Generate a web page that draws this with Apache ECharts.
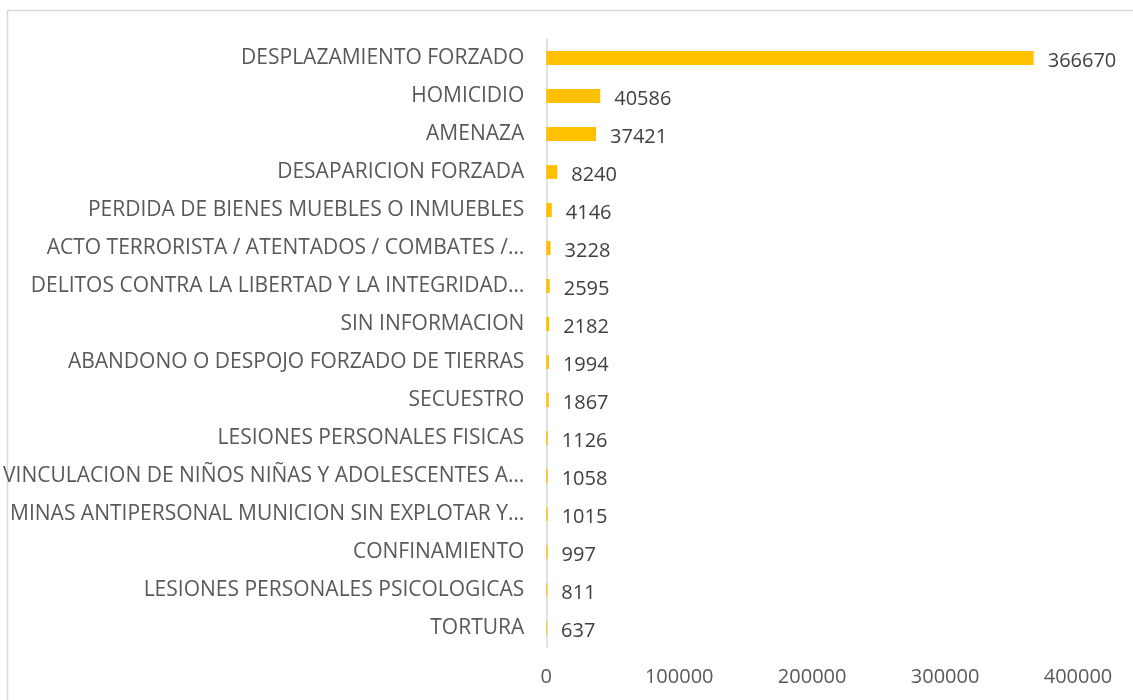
<!doctype html>
<html>
	<head>
		<meta charset="utf-8">
		<title>Hechos victimizantes</title>
		<script src="https://cdn.jsdelivr.net/npm/echarts@6/dist/echarts.min.js"></script>
		<style>
			html, body { margin: 0; padding: 0; background: #fff; }
		</style>
	</head>
	<body>
		<div id="chart" style="width: 1133px; height: 700px;"></div>
		<script>
			const categories = [
				"DESPLAZAMIENTO FORZADO",
				"HOMICIDIO",
				"AMENAZA",
				"DESAPARICION FORZADA",
				"PERDIDA DE BIENES MUEBLES O INMUEBLES",
				"ACTO TERRORISTA / ATENTADOS / COMBATES /…",
				"DELITOS CONTRA LA LIBERTAD Y LA INTEGRIDAD…",
				"SIN INFORMACION",
				"ABANDONO O DESPOJO FORZADO DE TIERRAS",
				"SECUESTRO",
				"LESIONES PERSONALES FISICAS",
				"VINCULACION DE NIÑOS NIÑAS Y ADOLESCENTES A…",
				"MINAS ANTIPERSONAL MUNICION SIN EXPLOTAR Y…",
				"CONFINAMIENTO",
				"LESIONES PERSONALES PSICOLOGICAS",
				"TORTURA"
			];
			const values = [366670, 40586, 37421, 8240, 4146, 3228, 2595, 2182, 1994, 1867, 1126, 1058, 1015, 997, 811, 637];
			const xTicks = [0, 100000, 200000, 300000, 400000];

			const font = "'Open Sans', sans-serif";
			const textColor = "#595959";

			let myChart = echarts.init(document.getElementById("chart"), null, {
				width: 1133,
				height: 700
			});

			myChart.setOption({
				animation: false,
				backgroundColor: "#fff",
				graphic: [
					{
						type: "rect",
						shape: { x: 7.5, y: 10.5, width: 1140, height: 700 },
						style: { fill: "none", stroke: "#d9d9d9", lineWidth: 1.5 },
						silent: true
					}
				],
				grid: {
					left: 546,
					right: 55,
					top: 39,
					height: 608
				},
				xAxis: {
					type: "value",
					min: xTicks[0],
					max: xTicks[xTicks.length - 1],
					interval: 100000,
					axisLine: { show: false },
					axisTick: { show: false },
					splitLine: { show: false },
					axisLabel: {
						color: textColor,
						fontFamily: font,
						fontSize: 20,
						margin: 20,
						formatter: v => String(v)
					}
				},
				yAxis: {
					type: "category",
					inverse: true,
					data: categories,
					axisLine: { show: true, lineStyle: { color: "#d9d9d9", width: 1.5 } },
					axisTick: { show: false },
					axisLabel: {
						color: textColor,
						fontFamily: font,
						fontSize: 21,
						margin: 22,
						padding: [2, 0, 0, 0]
					}
				},
				series: [
					{
						type: "bar",
						data: values,
						barWidth: 14,
						itemStyle: { color: "#FFC000" },
						label: {
							show: true,
							position: "right",
							distance: 14,
							offset: [0, 3],
							color: "#404040",
							fontFamily: font,
							fontSize: 20
						}
					}
				]
			});
		</script>
	</body>
</html>
